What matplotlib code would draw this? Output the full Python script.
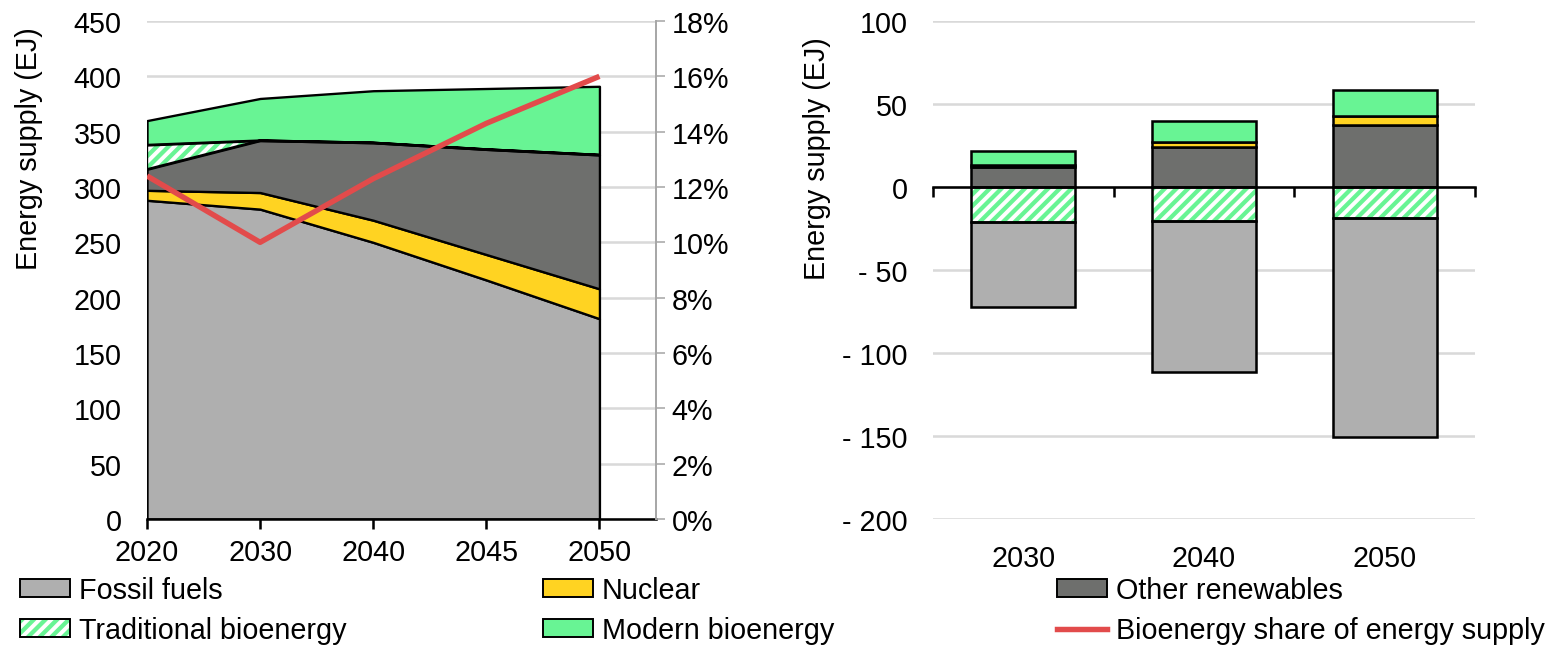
import matplotlib
matplotlib.use("Agg")
import matplotlib.pyplot as plt
import numpy as np
from matplotlib.patches import Patch
from matplotlib.lines import Line2D
from matplotlib.ticker import FuncFormatter

# ---------------- data ----------------
years = ['2020', '2030', '2040', '2045', '2050']
fossil = [288, 280, 250, 216, 181]
nuclear = [9, 15, 20, 23, 27]
other_ren = [19, 47, 70, 95, 121]
trad_bio = [22, 0, 0, 0, 0]
modern_bio = [22, 38, 47, 55, 62]
bio_share = [12.4, 10.0, 12.3, 14.3, 16.0]  # percent

bar_years = ['2030', '2040', '2050']
bar_other_ren = [12.2, 24.0, 37.5]
bar_nuclear = [1.0, 3.0, 5.0]
bar_modern_bio = [8.5, 12.6, 15.7]
bar_trad_bio = [-20.9, -20.3, -18.9]
bar_fossil = [-51.4, -91.1, -131.7]

left_yticks = [0, 50, 100, 150, 200, 250, 300, 350, 400, 450]
share_ticks = [0, 2, 4, 6, 8, 10, 12, 14, 16, 18]
right_yticks = [-200, -150, -100, -50, 0, 50, 100]

# ---------------- style ----------------
C_FOSSIL = '#AFAFAF'
C_NUC = '#FFD322'
C_OTHER = '#6E6F6D'
C_GREEN = '#68F494'
C_RED = '#E24B4B'
C_GRID = '#D9D9D9'

DPI = 140
FS = 14.8
HATCH = '////'
plt.rcParams['font.family'] = ['Liberation Sans', 'DejaVu Sans']
plt.rcParams['font.size'] = FS
plt.rcParams['hatch.linewidth'] = 2.2

fig = plt.figure(figsize=(1552 / DPI, 647 / DPI), dpi=DPI)
W, H = 1552, 647

def ax_rect(x0, x1, ytop, ybot):
    return [x0 / W, 1 - ybot / H, (x1 - x0) / W, (ybot - ytop) / H]

ax = fig.add_axes(ax_rect(147, 656, 22, 520))
ax2 = fig.add_axes(ax_rect(933, 1475, 22, 520))

EDGE_LW = 1.2

# ---------------- left: stacked area ----------------
x = np.arange(len(years))
layers = [(fossil, C_FOSSIL, None), (nuclear, C_NUC, None), (other_ren, C_OTHER, None),
          (trad_bio, 'white', HATCH), (modern_bio, C_GREEN, None)]
base = np.zeros(len(years))
for vals, col, hatch in layers:
    top = base + np.array(vals, dtype=float)
    if hatch:
        ax.fill_between(x, base, top, facecolor='white', edgecolor=C_GREEN, hatch=hatch,
                        linewidth=0, zorder=2)
        ax.fill_between(x, base, top, facecolor='none', edgecolor='black',
                        linewidth=EDGE_LW, zorder=2.1)
    else:
        ax.fill_between(x, base, top, facecolor=col, edgecolor='black',
                        linewidth=EDGE_LW, zorder=2)
    base = top

ax.set_xlim(0, 4.5)
ax.set_ylim(0, 450)
ax.set_yticks(left_yticks)
ax.yaxis.grid(True, color=C_GRID, linewidth=1.3, zorder=0)
ax.set_axisbelow(True)
ax.set_xticks(x)
ax.set_xticklabels(years)
for s in ['top', 'right', 'left']:
    ax.spines[s].set_visible(False)
ax.spines['bottom'].set_linewidth(1.3)
ax.spines['bottom'].set_zorder(5)
ax.tick_params(axis='y', length=0, pad=13, labelsize=FS)
ax.tick_params(axis='x', direction='out', length=5, width=1.3, pad=5, labelsize=FS)
ax.set_ylabel('Energy supply (EJ)', fontsize=FS)
ax.yaxis.set_label_coords(-0.205, 0.745)

axr = ax.twinx()
axr.plot(x, np.array(bio_share), color=C_RED, linewidth=2.8, zorder=6, solid_capstyle='butt')
axr.set_ylim(0, 18)
axr.set_yticks(share_ticks)
axr.yaxis.set_major_formatter(FuncFormatter(lambda v, p: f'{int(v)}%'))
for s in ['top', 'left', 'bottom']:
    axr.spines[s].set_visible(False)
axr.spines['right'].set_color('#A6A6A6')
axr.spines['right'].set_linewidth(1.0)
axr.tick_params(axis='y', direction='out', length=4.5, color='#A6A6A6', pad=3.5, labelsize=FS)
axr.set_xlim(0, 4.5)

# ---------------- right: stacked bars ----------------
xb = np.arange(len(bar_years))
bw = 0.575
pos_base = np.zeros(len(bar_years))
for vals, col in [(bar_other_ren, C_OTHER), (bar_nuclear, C_NUC), (bar_modern_bio, C_GREEN)]:
    ax2.bar(xb, vals, bw, bottom=pos_base, color=col, edgecolor='black', linewidth=1.3, zorder=3)
    pos_base = pos_base + np.array(vals)
neg_base = np.zeros(len(bar_years))
ax2.bar(xb, bar_trad_bio, bw, bottom=neg_base, color='white', edgecolor=C_GREEN, hatch=HATCH,
        linewidth=0, zorder=3)
ax2.bar(xb, bar_trad_bio, bw, bottom=neg_base, fill=False, edgecolor='black', linewidth=1.3, zorder=3.1)
neg_base = neg_base + np.array(bar_trad_bio)
ax2.bar(xb, bar_fossil, bw, bottom=neg_base, color=C_FOSSIL, edgecolor='black', linewidth=1.3, zorder=3)

ax2.set_xlim(-0.5, 2.5)
ax2.set_ylim(-200, 100)
ax2.set_yticks(right_yticks)
ax2.yaxis.set_major_formatter(FuncFormatter(lambda v, p: f'- {abs(int(v))}' if v < 0 else f'{int(v)}'))
ax2.yaxis.grid(True, color=C_GRID, linewidth=1.3, zorder=0)
ax2.set_axisbelow(True)
ax2.set_xticks(xb)
ax2.set_xticklabels(bar_years)
for s in ['top', 'right', 'left', 'bottom']:
    ax2.spines[s].set_visible(False)
ax2.tick_params(axis='x', length=0, pad=13, labelsize=FS)
ax2.tick_params(axis='y', length=0, pad=13, labelsize=FS)
ax2.set_ylabel('Energy supply (EJ)', fontsize=FS)
ax2.yaxis.set_label_coords(-0.188, 0.725)

# zero axis with category-boundary ticks
zero_frac = (0 - (-200)) / (100 - (-200))
sec = ax2.secondary_xaxis(zero_frac)
sec.set_xticks(np.arange(len(bar_years) + 1) - 0.5)
sec.set_xticklabels([])
sec.spines['bottom'].set_visible(False)
sec.spines['top'].set_linewidth(1.3)
sec.tick_params(axis='x', direction='in', length=5, width=1.3)
sec.set_zorder(5)

# ---------------- legend ----------------
def hatch_handle():
    return (Patch(facecolor='white', edgecolor=C_GREEN, hatch=HATCH, linewidth=0),
            Patch(facecolor='none', edgecolor='black', linewidth=1.0))

leg_cols = [
    ([Patch(facecolor=C_FOSSIL, edgecolor='black', linewidth=1.0), hatch_handle()],
     ['Fossil fuels', 'Traditional bioenergy'], 20),
    ([Patch(facecolor=C_NUC, edgecolor='black', linewidth=1.0),
      Patch(facecolor=C_GREEN, edgecolor='black', linewidth=1.0)],
     ['Nuclear', 'Modern bioenergy'], 543),
    ([Patch(facecolor=C_OTHER, edgecolor='black', linewidth=1.0),
      Line2D([], [], color=C_RED, linewidth=2.8)],
     ['Other renewables', 'Bioenergy share of energy supply'], 1057),
]
for handles, labels, xpix in leg_cols:
    fig.legend(handles, labels, loc='center left', bbox_to_anchor=(xpix / W, 1 - 611 / H),
               frameon=False, borderpad=0, borderaxespad=0, handlelength=1.75,
               handleheight=0.57, handletextpad=0.3, labelspacing=0.42, fontsize=FS)

fig.savefig('out.png', dpi=DPI)
